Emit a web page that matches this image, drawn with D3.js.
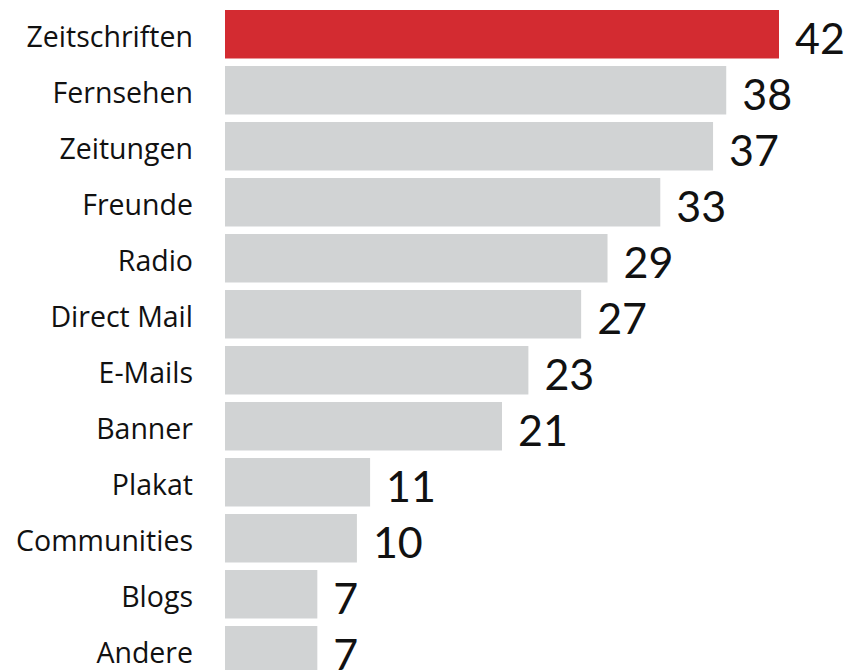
<!DOCTYPE html>
<html>
<head>
<meta charset="utf-8">
<script src="https://cdn.jsdelivr.net/npm/d3@7"></script>
<style>
  html, body { margin: 0; padding: 0; background: #ffffff; }
  svg { display: block; }
</style>
</head>
<body>
<svg id="chart" width="849" height="670"></svg>
<script>
// Kanäle und Anteile (in Prozent)
const categories = ["Zeitschriften", "Fernsehen", "Zeitungen", "Freunde", "Radio", "Direct Mail",
                    "E-Mails", "Banner", "Plakat", "Communities", "Blogs", "Andere"];
const values = [42, 38, 37, 33, 29, 27, 23, 21, 11, 10, 7, 7];
const highlighted = ["Zeitschriften"];

const data = categories.map((c, i) => ({ name: c, value: values[i] }));

const svg = d3.select("#chart");
const catFont = "'Open Sans', Lato, sans-serif";
const valFont = "Lato, 'Open Sans', sans-serif";

const x0 = 225;
const x = d3.scaleLinear().domain([0, 42]).range([x0, 779]);
const y = d3.scaleBand()
  .domain(categories)
  .range([6.25, 678.25])
  .paddingInner(0.134)
  .paddingOuter(0.067);

svg.selectAll("rect.bar")
  .data(data)
  .join("rect")
  .attr("class", "bar")
  .attr("x", x(0))
  .attr("y", d => y(d.name))
  .attr("width", d => x(d.value) - x(0))
  .attr("height", y.bandwidth())
  .attr("fill", d => highlighted.includes(d.name) ? "#d32b31" : "#d1d3d4");

// Kategorienbeschriftung links
svg.selectAll("text.cat")
  .data(data)
  .join("text")
  .attr("class", "cat")
  .attr("x", 193)
  .attr("y", d => y(d.name) + y.bandwidth() / 2 + 13)
  .attr("text-anchor", "end")
  .attr("font-family", catFont)
  .attr("font-size", 28.5)
  .attr("fill", "#111")
  .text(d => d.name);

// Werte rechts neben den Balken
svg.selectAll("text.val")
  .data(data)
  .join("text")
  .attr("class", "val")
  .attr("x", d => x(d.value) + 16)
  .attr("y", d => y(d.name) + y.bandwidth() / 2 + 20)
  .attr("font-family", valFont)
  .attr("font-size", 43)
  .attr("fill", "#111")
  .text(d => d.value);
</script>
</body>
</html>
